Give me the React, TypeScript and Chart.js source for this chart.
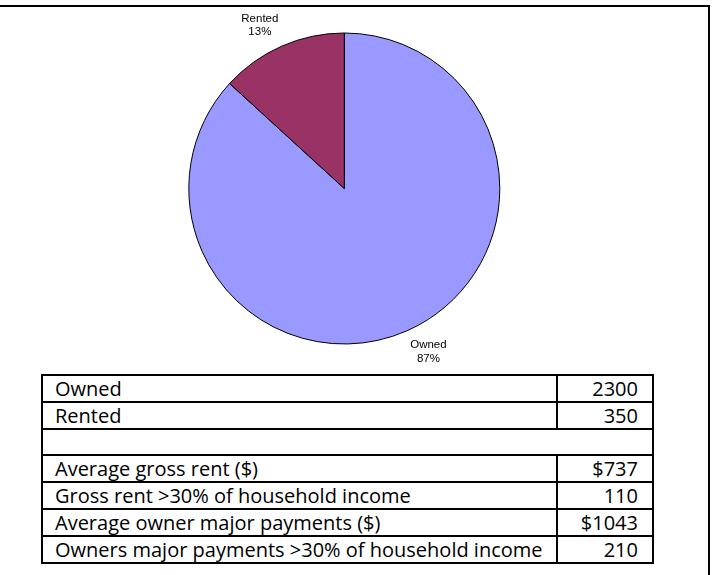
import React, { useEffect, useRef } from "react";
import { Chart, registerables } from "chart.js";

Chart.register(...registerables);

const categories = ["Owned", "Rented"];
const values = [2300, 350];
const sliceColors = ["#9999FF", "#993366"];

const tableLabels = [
  "Owned",
  "Rented",
  "",
  "Average gross rent ($)",
  "Gross rent >30% of household income",
  "Average owner major payments ($)",
  "Owners major payments >30% of household income",
];
const tableValues = ["2300", "350", "", "$737", "110", "$1043", "210"];

const W = 713;
const H = 575;

const pieLabelPlugin = {
  id: "pieLabels",
  afterDatasetsDraw(chart: any) {
    const ctx = chart.ctx;
    const meta = chart.getDatasetMeta(0);
    const data = chart.data.datasets[0].data as number[];
    const total = data.reduce((a, b) => a + b, 0);
    const fontSize = 11.5;
    const lineH = 13.5;
    const gap = 8;
    ctx.save();
    ctx.font = `${fontSize}px "Liberation Sans", Arial, sans-serif`;
    ctx.fillStyle = "#000";
    ctx.textAlign = "center";
    ctx.textBaseline = "middle";
    meta.data.forEach((arc: any, i: number) => {
      const p = arc.getProps(["x", "y", "startAngle", "endAngle", "outerRadius"], true);
      const mid = (p.startAngle + p.endAngle) / 2;
      const c = Math.cos(mid);
      const s = Math.sin(mid);
      const px = p.x + c * (p.outerRadius + gap);
      const py = p.y + s * (p.outerRadius + gap);
      const lines = [
        String(chart.data.labels[i]),
        Math.round((data[i] / total) * 100) + "%",
      ];
      const w = Math.max(...lines.map((l) => ctx.measureText(l).width));
      const h = lines.length * lineH;
      const cx = c >= 0 ? px + w / 2 : px - w / 2;
      const top = s >= 0 ? py : py - h;
      lines.forEach((l, k) => {
        ctx.fillText(l, cx, top + lineH * k + lineH / 2);
      });
    });
    ctx.restore();
  },
};

export default function App() {
  const ref = useRef<HTMLCanvasElement | null>(null);

  useEffect(() => {
    if (!ref.current) return;
    const chart = new Chart(ref.current, {
      type: "pie",
      data: {
        labels: categories,
        datasets: [
          {
            data: values,
            backgroundColor: sliceColors,
            borderColor: "#000000",
            borderWidth: 1,
          },
        ],
      },
      options: {
        responsive: false,
        animation: false,
        devicePixelRatio: 1,
        layout: {
          padding: { left: 188.3, right: 212.7, top: 32.5, bottom: 230.5 },
        },
        plugins: {
          legend: { display: false },
          tooltip: { enabled: false },
        },
      },
      plugins: [pieLabelPlugin],
    });
    return () => chart.destroy();
  }, []);

  const rowH = 24.8;

  return (
    <div
      style={{
        position: "fixed",
        left: 0,
        top: 0,
        width: W,
        height: H,
        overflow: "hidden",
        background: "#fff",
      }}
    >
      <canvas
        ref={ref}
        width={W}
        height={H}
        style={{ position: "absolute", left: 0, top: 0, width: W, height: H }}
      />
      <div
        style={{
          position: "absolute",
          left: 0,
          top: 5,
          width: 710,
          height: 600,
          borderTop: "2px solid #000",
          borderRight: "2px solid #000",
          boxSizing: "border-box",
          pointerEvents: "none",
        }}
      />
      <div
        style={{
          position: "absolute",
          left: 41,
          top: 374,
          width: 613,
          border: "2px solid #000",
          boxSizing: "border-box",
          fontFamily: '"Open Sans", sans-serif',
          fontSize: 20,
          color: "#000",
          background: "#fff",
        }}
      >
        {tableLabels.map((lab, i) => (
          <div
            key={i}
            style={{
              display: "flex",
              height: rowH,
              lineHeight: `${rowH}px`,
              borderTop: i === 0 ? "none" : "2px solid #000",
            }}
          >
            {i === 2 ? (
              <div style={{ flex: 1 }} />
            ) : (
              <>
                <div
                  style={{
                    width: 515,
                    boxSizing: "border-box",
                    paddingLeft: 12,
                    paddingTop: 1,
                    borderRight: "2px solid #000",
                    whiteSpace: "nowrap",
                    overflow: "hidden",
                  }}
                >
                  {lab}
                </div>
                <div
                  style={{
                    flex: 1,
                    textAlign: "right",
                    paddingRight: 14,
                    paddingTop: 1,
                    whiteSpace: "nowrap",
                  }}
                >
                  {tableValues[i]}
                </div>
              </>
            )}
          </div>
        ))}
      </div>
    </div>
  );
}
